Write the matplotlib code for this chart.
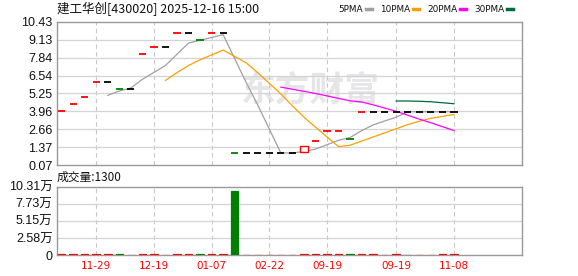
import matplotlib
matplotlib.use("Agg")
import matplotlib.pyplot as plt
import numpy as np
import pandas as pd
from matplotlib.patches import Rectangle
from matplotlib.lines import Line2D

# 建工华创 daily k-line
opens = [3.97, 4.46, 4.96, 6.07, 6.07, 5.54, 5.54, 8.09, 8.58, 8.58,
         9.59, 9.59, 9.09, 9.59, 9.59, 0.94, 0.94, 0.94, 0.94, 0.94,
         0.94, 1.00, 1.83, 2.50, 2.55, 1.95, 3.92, 3.92, 3.92, 3.92,
         3.92, 3.92, 3.92, 3.92, 3.92]
closes = [3.97, 4.46, 4.96, 6.07, 6.07, 5.54, 5.54, 8.09, 8.58, 8.58,
          9.59, 9.59, 9.09, 9.59, 9.59, 0.94, 0.94, 0.94, 0.94, 0.94,
          0.94, 1.46, 1.83, 2.50, 2.55, 1.95, 3.92, 3.92, 3.92, 3.92,
          3.92, 3.92, 3.92, 3.92, 3.92]
volumes = [1200, 1000, 900, 1100, 800, 1000, 700, 1300, 1100, 700,
           1400, 900, 1000, 800, 900, 96600, 600, 500, 700, 600,
           500, 1500, 1300, 1100, 1200, 1000, 1400, 800, 600, 900,
           700, 500, 600, 800, 1300]

date_ticks = [3, 8, 13, 18, 23, 29, 34]
date_labels = ['11-29', '12-19', '01-07', '02-22', '09-19', '09-19', '11-08']

price_ticks = [0.07, 1.37, 2.66, 3.96, 5.25, 6.54, 7.84, 9.13, 10.43]
vol_ticks = [0, 25775, 51550, 77325, 103100]
vol_tick_labels = ['0', '2.58万', '5.15万', '7.73万', '10.31万']

ma_periods = [5, 10, 20, 30]
ma_names = ['5PMA', '10PMA', '20PMA', '30PMA']
ma_colors = ['#a0a0a0', '#f5a000', '#ff00ff', '#006b38']

title = '建工华创[430020] 2025-12-16 15:00'

RED = '#ff0000'
GREEN = '#008000'
GRID = '#d4d4d4'
EDGE = '#999999'
cjk = ['Noto Sans CJK SC', 'DejaVu Sans']
num_font = ['Liberation Sans', 'Noto Sans CJK SC']

n = len(closes)
x = np.arange(n)
close_s = pd.Series(closes)

# candle colours: body direction, flat ones compared with previous close
cols = []
vcols = []
for i in range(n):
    prev = closes[i - 1] if i > 0 else None
    if closes[i] > opens[i]:
        c = RED
    elif closes[i] < opens[i]:
        c = GREEN
    elif prev is None or closes[i] > prev:
        c = RED
    elif closes[i] < prev:
        c = GREEN
    else:
        c = 'black'
    cols.append(c)
    vcols.append(GREEN if (prev is not None and closes[i] < prev) else RED)

W, H = 578, 276
fig = plt.figure(figsize=(W / 100, H / 100), dpi=100)
fig.patch.set_facecolor('white')

ax = fig.add_axes([57 / W, 1 - 165 / H, 465 / W, 143.3 / H])
axv = fig.add_axes([57 / W, 1 - 255 / H, 465 / W, 68.3 / H])

for a in (ax, axv):
    a.set_xlim(-0.4, 39.9)
    for s in a.spines.values():
        s.set_color(EDGE)
        s.set_linewidth(1.0)
    a.tick_params(length=0)
    for xt in date_ticks:
        a.axvline(xt, color='#c8c8c8', lw=0.8, ls=(0, (4, 3)), zorder=1)

# main price panel
ax.set_ylim(price_ticks[0], price_ticks[-1])
ax.set_yticks(price_ticks)
ax.set_yticklabels([f'{v:.2f}' for v in price_ticks], fontsize=9,
                   family=num_font, color='#111111')
ax.tick_params(axis='y', pad=3.2)
ax.set_xticks([])
for v in price_ticks[1:-1]:
    ax.axhline(v, color=GRID, lw=0.9, zorder=1)

ax.text(0.545, 0.52, '东方财富', transform=ax.transAxes, ha='center', va='center',
        fontsize=25, fontweight='bold', color='#e6e6e9', family=cjk, zorder=0)

cw = 0.63
for i in range(n):
    if opens[i] == closes[i]:
        ax.hlines(closes[i], i - cw / 2, i + cw / 2, color=cols[i], lw=1.3, zorder=4)
    else:
        lo = min(opens[i], closes[i])
        hi = max(opens[i], closes[i])
        face = 'white' if closes[i] > opens[i] else cols[i]
        ax.add_patch(Rectangle((i - cw / 2, lo), cw, hi - lo, facecolor=face,
                               edgecolor=cols[i], lw=1.0, zorder=4))

for p, c in zip(ma_periods, ma_colors):
    ma = close_s.rolling(p).mean()
    ax.plot(x, ma, color=c, lw=0.9, zorder=3)

# volume panel
axv.set_ylim(0, vol_ticks[-1])
axv.set_yticks(vol_ticks)
axv.set_yticklabels(vol_tick_labels, fontsize=9, family=num_font, color='#111111')
axv.tick_params(axis='y', pad=3.2)
for v in vol_ticks[1:-1]:
    axv.axhline(v, color=GRID, lw=0.9, zorder=1)
axv.bar(x, volumes, width=0.65, color=vcols, edgecolor=vcols, lw=0.9, zorder=3)
axv.set_xticks(date_ticks)
axv.set_xticklabels(date_labels, fontsize=7.5, color=RED, family='DejaVu Sans')
axv.tick_params(axis='x', pad=4)

# header texts
fig.text(57 / W, 1 - 8.5 / H, title, fontsize=9, family=cjk, ha='left', va='center',
         color='#111111')
fig.text(57 / W, 1 - 177.5 / H, '成交量:' + str(volumes[-1]), fontsize=8.5, family=cjk,
         ha='left', va='center', color='#111111')

# legend: name followed by a short colour bar
renderer = fig.canvas.get_renderer()
lx = 338
for name, c in zip(ma_names, ma_colors):
    t = fig.text(lx / W, 1 - 9 / H, name, fontsize=6.4, family='DejaVu Sans',
                 ha='left', va='center', color='#111111')
    tw = t.get_window_extent(renderer).width
    mx = lx + tw + 3
    fig.add_artist(Line2D([mx / W, (mx + 6) / W], [1 - 8.5 / H, 1 - 8.5 / H],
                          transform=fig.transFigure, color=c, lw=2.5))
    lx = mx + 14

fig.savefig('out.png', dpi=100)
